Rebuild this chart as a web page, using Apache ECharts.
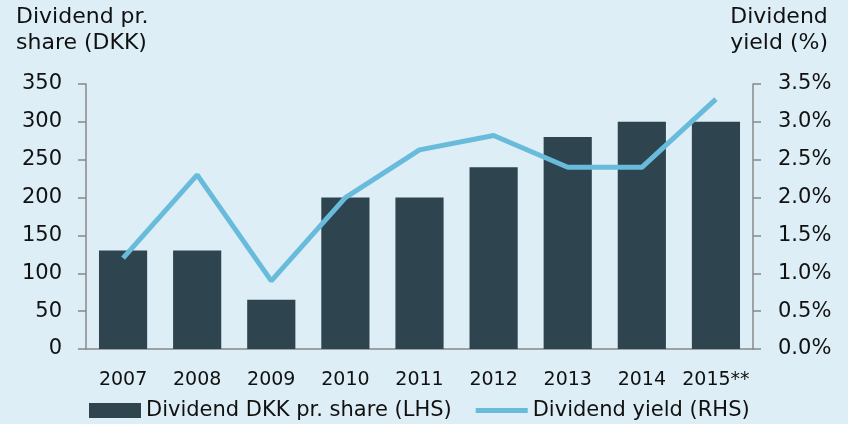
<!DOCTYPE html>
<html>
<head>
<meta charset="utf-8">
<script src="https://cdn.jsdelivr.net/npm/echarts@6/dist/echarts.min.js"></script>
<style>
  html, body { margin: 0; padding: 0; background: #ddeef6; }
  #main { width: 848px; height: 424px; }
</style>
</head>
<body>
<div id="main"></div>
<script>
// years on the category axis
const years = ['2007', '2008', '2009', '2010', '2011', '2012', '2013', '2014', '2015**']
// dividend per share, DKK (left axis)
const dividendDkk = [130, 130, 65, 200, 200, 240, 280, 300, 300]
// dividend yield, % (right axis)
const dividendYield = [1.2, 2.3, 0.9, 2.0, 2.63, 2.82, 2.4, 2.4, 3.3]

const font = 'DejaVu Sans'
const chart = echarts.init(document.getElementById('main'))

const titleStyle = { fontFamily: font, fontSize: 22, fontWeight: 'normal', color: '#111', lineHeight: 26 }

const option = {
  backgroundColor: '#ddeef6',
  textStyle: { fontFamily: font },
  animation: false,
  title: [
    {
      text: 'Dividend pr.\nshare (DKK)',
      left: 16,
      top: 4,
      padding: 0,
      textStyle: titleStyle
    },
    {
      text: 'Dividend\nyield (%)',
      right: 20,
      top: 4,
      padding: 0,
      textStyle: titleStyle
    }
  ],
  grid: { left: 86, right: 95, top: 84, bottom: 75 },
  legend: {
    left: 89,
    bottom: 3,
    padding: 0,
    itemGap: 24,
    itemWidth: 52,
    itemHeight: 15,
    textStyle: { fontFamily: font, fontSize: 21, color: '#111' },
    data: [
      { name: 'Dividend DKK pr. share (LHS)', icon: 'rect' },
      { name: 'Dividend yield (RHS)', icon: 'path://M0,0h52v5h-52z' }
    ]
  },
  xAxis: {
    type: 'category',
    data: years,
    axisLine: { lineStyle: { color: '#888', width: 1.5 } },
    axisTick: { show: false },
    axisLabel: { color: '#111', fontSize: 19, margin: 22, interval: 0 }
  },
  yAxis: [
    {
      type: 'value',
      min: 0,
      max: 350,
      interval: 50,
      splitLine: { show: false },
      axisLine: { show: true, lineStyle: { color: '#888', width: 1.5 } },
      axisTick: { show: true, length: 8, lineStyle: { color: '#888', width: 1.5 } },
      axisLabel: { color: '#111', fontSize: 21, margin: 24 }
    },
    {
      type: 'value',
      min: 0,
      max: 3.5,
      interval: 0.5,
      splitLine: { show: false },
      axisLine: { show: true, lineStyle: { color: '#888', width: 1.5 } },
      axisTick: { show: true, length: 8, lineStyle: { color: '#888', width: 1.5 } },
      axisLabel: {
        color: '#111',
        fontSize: 21,
        margin: 25,
        formatter: (v) => v.toFixed(1) + '%'
      }
    }
  ],
  series: [
    {
      name: 'Dividend DKK pr. share (LHS)',
      type: 'bar',
      data: dividendDkk,
      barWidth: '65%',
      itemStyle: { color: '#2e444e' }
    },
    {
      name: 'Dividend yield (RHS)',
      type: 'line',
      yAxisIndex: 1,
      data: dividendYield,
      symbol: 'none',
      lineStyle: { color: '#68bbda', width: 5 },
      itemStyle: { color: '#68bbda' }
    }
  ]
}

chart.setOption(option)
</script>
</body>
</html>
